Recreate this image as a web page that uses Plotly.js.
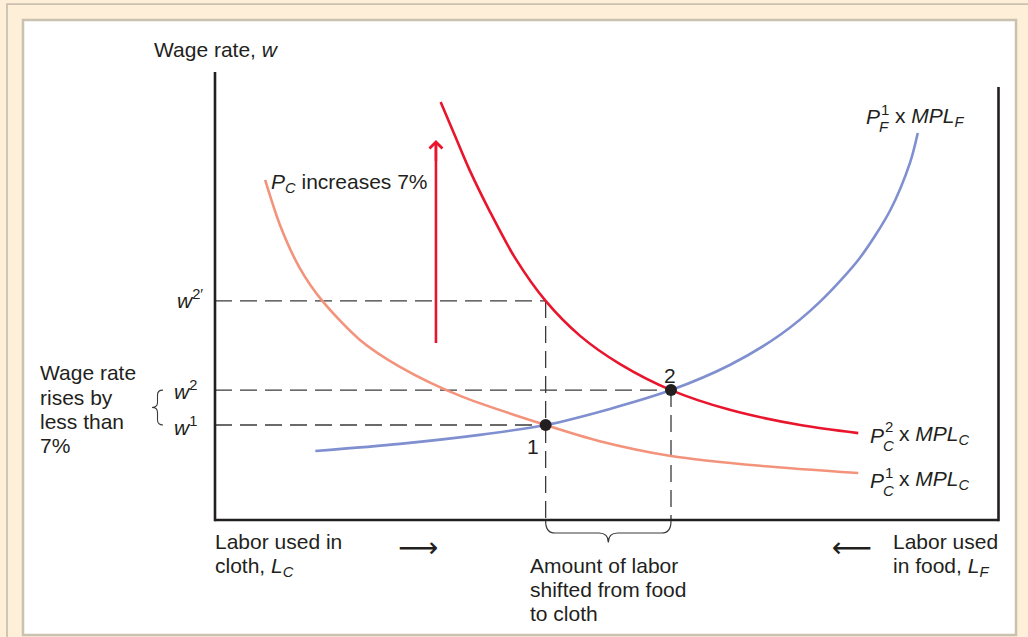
<!DOCTYPE html>
<html>
<head>
<meta charset="utf-8">
<script src="https://cdn.plot.ly/plotly-3.0.1.min.js"></script>
<style>html,body{margin:0;padding:0;background:#fdefd8;}#chart{width:1028px;height:637px;}</style>
</head>
<body>
<div id="chart"></div>
<script>
// ---- data (labor on x, wage on y; 0..100 units) ----
const laborFood = [12.8, 23.6, 33.8, 42.2, 50.4, 58.2, 65.7, 72.1, 77.2, 82.3, 86.2, 88.7, 89.7];
const wageFood  = [15.4, 17.0, 19.0, 21.2, 24.8, 29.0, 34.6, 41.3, 48.7, 58.5, 69.2, 79.7, 86.4];

const laborCloth2 = [28.8, 30.6, 32.5, 35.1, 38.3, 42.2, 46.6, 51.7, 58.2, 65.7, 74.7, 82.1];
const wageCloth2  = [93.3, 85.9, 78.1, 68.8, 58.5, 48.9, 41.1, 34.8, 29.0, 24.6, 21.2, 19.4];

const laborCloth1 = [6.4, 8.3, 10.8, 13.7, 18.5, 23.6, 31.3, 42.2, 49.1, 58.2, 69.6, 82.1];
const wageCloth1  = [75.9, 65.8, 56.3, 48.9, 40.2, 34.2, 27.7, 21.2, 17.6, 14.3, 12.1, 10.5];

const eqLabor = [42.2, 58.2];   // equilibrium 1, 2
const eqWage  = [21.2, 29.0];   // w1, w2
const eqLabels = ["1", "2"];
const wagePrime = 48.9;         // w2'
const arrowLabor = 28.2;
const arrowWage = [39.5, 84.8]; // tail, head

// ---- geometry ----
const W = 1028, H = 637;
const px0 = 215, pxPerX = 7.835, py0 = 520, pxPerY = 4.48;
const xRange = [-px0 / pxPerX, (W - px0) / pxPerX];
const yRange = [-(H - py0) / pxPerY, py0 / pxPerY];
const P = (px, py) => ({x: px / W, y: 1 - py / H, xref: 'paper', yref: 'paper'});

const INK = '#231f20';
const FONT = 'Liberation Sans, Arial, Helvetica, sans-serif';
const FS = 21;
const dashStyle = {color: '#3a3a3a', width: 1.3, dash: '17px,8px'};

const traces = [];
function dashed(xs, ys) {
  traces.push({x: xs, y: ys, mode: 'lines', line: dashStyle, hoverinfo: 'skip'});
}
dashed([0, eqLabor[0]], [wagePrime, wagePrime]);
dashed([0, eqLabor[1]], [eqWage[1], eqWage[1]]);
dashed([0, eqLabor[0]], [eqWage[0], eqWage[0]]);
dashed([eqLabor[0], eqLabor[0]], [wagePrime, 0]);
dashed([eqLabor[1], eqLabor[1]], [eqWage[1], 0]);

traces.push({x: laborCloth1, y: wageCloth1, mode: 'lines', line: {color: '#f4937c', width: 2.6, shape: 'spline', smoothing: 0.8}, hoverinfo: 'skip'});
traces.push({x: laborCloth2, y: wageCloth2, mode: 'lines', line: {color: '#e8152d', width: 2.6, shape: 'spline', smoothing: 0.8}, hoverinfo: 'skip'});
traces.push({x: laborFood, y: wageFood, mode: 'lines', line: {color: '#7f8fd0', width: 2.6, shape: 'spline', smoothing: 0.8}, hoverinfo: 'skip'});
traces.push({x: eqLabor, y: eqWage, mode: 'markers', marker: {color: INK, size: 12}, hoverinfo: 'skip'});
// red shaft
traces.push({x: [arrowLabor, arrowLabor], y: [arrowWage[0], arrowWage[1] - 0.5], mode: 'lines', line: {color: '#e8152d', width: 2.6}, hoverinfo: 'skip'});

// ---- shapes ----
const shapes = [
  {type: 'rect', xref: 'paper', yref: 'paper', x0: 7 / W, x1: 1.05, y0: -0.1, y1: 1 - 4.2 / H,
   fillcolor: '#fdefd8', line: {color: '#cbc1b1', width: 1.8}, layer: 'below'},
  {type: 'rect', xref: 'paper', yref: 'paper', x0: 23 / W, x1: 1016 / W, y0: 1 - 635 / H, y1: 1 - 20 / H,
   fillcolor: '#ffffff', line: {color: '#cbc1b1', width: 2.5}, layer: 'below'},
  {type: 'line', xref: 'x', yref: 'y', x0: 0, x1: 0, y0: -0.3, y1: 100, line: {color: INK, width: 2.6}},
  {type: 'line', xref: 'x', yref: 'y', x0: 0, x1: 100, y0: 0, y1: 0, line: {color: INK, width: 2.6}},
  {type: 'line', xref: 'x', yref: 'y', x0: 100, x1: 100, y0: -0.3, y1: (py0 - 87) / pxPerY, line: {color: INK, width: 2.6}}
];
// bottom brace
(function () {
  const xa = eqLabor[0], xb = eqLabor[1], xm = (xa + xb) / 2;
  const y0 = -0.2, y1 = -2.9, yt = -5.0, d = 1.2;
  shapes.push({type: 'path', xref: 'x', yref: 'y', line: {color: '#3a3a3a', width: 1.2},
    path: `M ${xa},${y0} Q ${xa},${y1} ${xa + d},${y1} L ${xm - d},${y1} Q ${xm},${y1} ${xm},${yt} Q ${xm},${y1} ${xm + d},${y1} L ${xb - d},${y1} Q ${xb},${y1} ${xb},${y0}`});
})();
// left brace
(function () {
  const xr = (163 - px0) / pxPerX, xm = (157.5 - px0) / pxPerX, xt = (152 - px0) / pxPerX;
  const ya = eqWage[1], yb = eqWage[0], ym = (ya + yb) / 2, d = 1.1;
  shapes.push({type: 'path', xref: 'x', yref: 'y', line: {color: '#3a3a3a', width: 1.1},
    path: `M ${xr},${ya} Q ${xm},${ya} ${xm},${ya - d} L ${xm},${ym + d} Q ${xm},${ym} ${xt},${ym} Q ${xm},${ym} ${xm},${ym - d} L ${xm},${yb + d} Q ${xm},${yb} ${xr},${yb}`});
})();

// ---- annotations ----
const ann = [];
function txt(px, py, text, opts) {
  ann.push(Object.assign(P(px, py), {text: text, showarrow: false, xanchor: 'left', yanchor: 'middle', align: 'left',
    font: {family: FONT, size: FS, color: INK}}, opts || {}));
}
function lines(px, py, arr, gap) {
  arr.forEach((t, i) => txt(px, py + i * gap, t));
}
txt(152, 50, 'Wage rate, <i>w</i>');
txt(205, 299, '<i>w</i><sup>2′</sup>', {xanchor: 'right'});
txt(199, 390, '<i>w</i><sup>2</sup>', {xanchor: 'right'});
txt(199, 426, '<i>w</i><sup>1</sup>', {xanchor: 'right'});
lines(38, 373, ['Wage rate', 'rises by', 'less than', '7%'], 24.3);
txt(269, 183, '<i>P<sub>C</sub></i> increases 7%');
lines(213, 541, ['Labor used in', 'cloth, <i>L<sub>C</sub></i>'], 26);
lines(528, 565, ['Amount of labor', 'shifted from food', 'to cloth'], 24);
lines(891, 541, ['Labor used', 'in food, <i>L<sub>F</sub></i>'], 26);
txt(396, 547, '⟶', {font: {family: 'DejaVu Sans, sans-serif', size: 28, color: INK}});
txt(830, 547, '⟵', {font: {family: 'DejaVu Sans, sans-serif', size: 28, color: INK}});
// equilibrium numbers
ann.push({x: eqLabor[0] - 1.6, y: eqWage[0] - 4.9, xref: 'x', yref: 'y', text: eqLabels[0], showarrow: false,
  font: {family: FONT, size: FS, color: INK}});
ann.push({x: eqLabor[1] - 0.1, y: eqWage[1] + 3.2, xref: 'x', yref: 'y', text: eqLabels[1], showarrow: false,
  font: {family: FONT, size: FS, color: INK}});
// curve labels with stacked sub/superscripts
function curveLabel(px, py, sup, sub) {
  txt(px, py, '<i>P</i>');
  txt(px + 15, py - 8, sup, {font: {family: FONT, size: 15, color: INK}});
  txt(px + 13, py + 10, '<i>' + sub + '</i>', {font: {family: FONT, size: 15, color: INK}});
  txt(px + 29, py, 'x <i>MPL<sub>' + sub + '</sub></i>');
}
curveLabel(864, 117, '1', 'F');
curveLabel(868, 435, '2', 'C');
curveLabel(868, 480, '1', 'C');
// red arrow head
ann.push({x: arrowLabor, y: arrowWage[1], ax: arrowLabor, ay: arrowWage[1] - 5, xref: 'x', yref: 'y', axref: 'x', ayref: 'y',
  text: '', showarrow: true, arrowhead: 4, arrowsize: 1, arrowwidth: 2.5, arrowcolor: '#e8152d', standoff: 0});

const layout = {
  width: W, height: H, margin: {l: 0, r: 0, t: 0, b: 0, pad: 0},
  paper_bgcolor: '#fdefd8', plot_bgcolor: 'rgba(0,0,0,0)', showlegend: false,
  xaxis: {range: xRange, visible: false, fixedrange: true},
  yaxis: {range: yRange, visible: false, fixedrange: true},
  shapes: shapes, annotations: ann, hovermode: false
};
Plotly.newPlot('chart', traces, layout, {displayModeBar: false, staticPlot: true});
</script>
</body>
</html>
